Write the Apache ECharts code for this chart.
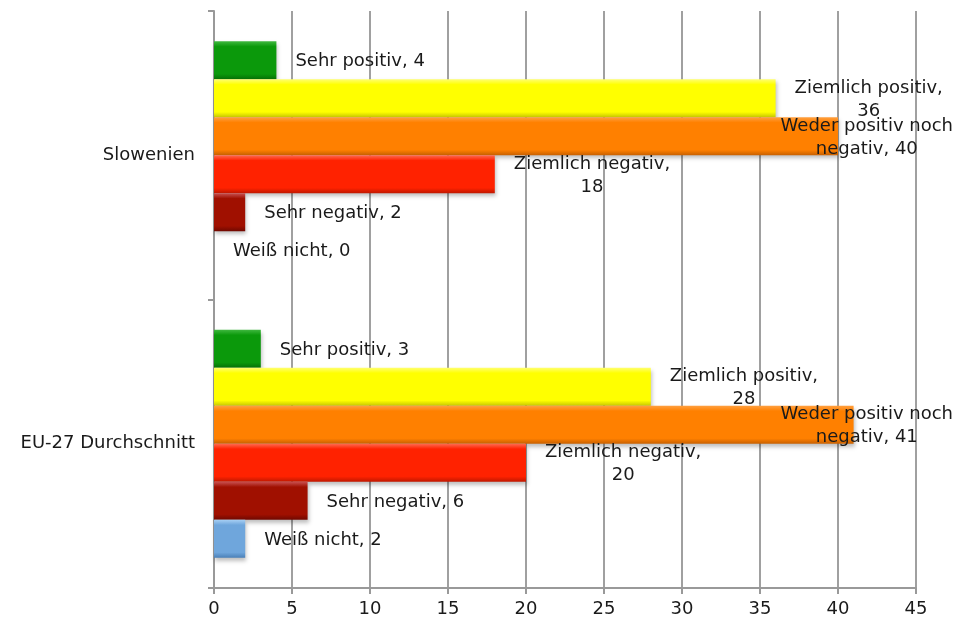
<!DOCTYPE html>
<html>
<head>
<meta charset="utf-8">
<script src="https://cdn.jsdelivr.net/npm/echarts@6/dist/echarts.min.js"></script>
<style>html,body{margin:0;padding:0;background:#fff;}#chart{width:969px;height:623px;}</style>
</head>
<body>
<div id="chart"></div>
<script>
const categories = ['Slowenien', 'EU-27 Durchschnitt'];
const seriesNames = ['Sehr positiv', 'Ziemlich positiv', 'Weder positiv noch negativ', 'Ziemlich negativ', 'Sehr negativ', 'Weiß nicht'];
const sehrPositiv = [4, 3];
const ziemlichPositiv = [36, 28];
const wederNoch = [40, 41];
const ziemlichNegativ = [18, 20];
const sehrNegativ = [2, 6];
const weissNicht = [0, 2];
const xTicks = [0, 5, 10, 15, 20, 25, 30, 35, 40, 45];

const seriesValues = [sehrPositiv, ziemlichPositiv, wederNoch, ziemlichNegativ, sehrNegativ, weissNicht];
const palette = [
  ['#3fb83f', '#0b990b', '#067006'],
  ['#ffff70', '#ffff00', '#c8c800'],
  ['#ffa040', '#ff8000', '#c86000'],
  ['#ff6a50', '#ff2200', '#c01800'],
  ['#c85050', '#a01000', '#700800'],
  ['#a8d0f4', '#6fa6dc', '#4a80b8']
];

function wrapText(s, maxChars) {
  const words = s.split(' ');
  const lines = [];
  let cur = '';
  words.forEach(w => {
    const t = cur ? cur + ' ' + w : w;
    if (t.length > maxChars && cur) { lines.push(cur); cur = w; }
    else cur = t;
  });
  if (cur) lines.push(cur);
  return lines.join('\n');
}

const chart = echarts.init(document.getElementById('chart'));
const W = 969;

const series = seriesNames.map((name, i) => ({
  name: name,
  type: 'bar',
  data: seriesValues[i],
  barGap: '0%',
  barCategoryGap: '21%',
  itemStyle: {
    color: {
      type: 'linear', x: 0, y: 0, x2: 0, y2: 1,
      colorStops: [
        { offset: 0, color: palette[i][0] },
        { offset: 0.14, color: palette[i][1] },
        { offset: 0.86, color: palette[i][1] },
        { offset: 1, color: palette[i][2] }
      ]
    },
    shadowColor: 'rgba(0,0,0,0.25)',
    shadowBlur: 4,
    shadowOffsetY: 3,
    shadowOffsetX: 1
  },
  label: {
    show: true,
    position: 'right',
    distance: 19,
    fontFamily: 'DejaVu Sans',
    fontSize: 18,
    lineHeight: 23,
    color: '#1a1a1a',
    formatter: p => wrapText(p.seriesName + ', ' + p.value, 18)
  },
  labelLayout: function (params) {
    const r = params.rect;
    const lr = params.labelRect;
    let left = r.x + r.width + 19;
    const maxRight = W - 16;
    if (left + lr.width > maxRight) left = maxRight - lr.width;
    return {
      x: left + lr.width / 2,
      y: r.y + r.height / 2 + 1.5,
      align: 'center',
      verticalAlign: 'middle'
    };
  }
}));

chart.setOption({
  animation: false,
  backgroundColor: '#ffffff',
  grid: { left: 214, right: 53, top: 11, bottom: 35, containLabel: false },
  xAxis: {
    type: 'value',
    min: xTicks[0],
    max: xTicks[xTicks.length - 1],
    interval: 5,
    axisLine: { show: true, lineStyle: { color: '#999999', width: 2 } },
    axisTick: { show: true, length: 6, lineStyle: { color: '#999999', width: 2 } },
    splitLine: { show: true, lineStyle: { color: '#a0a0a0', width: 2 } },
    axisLabel: { fontFamily: 'DejaVu Sans', fontSize: 18, color: '#1a1a1a', margin: 12 }
  },
  yAxis: {
    type: 'category',
    data: categories,
    inverse: true,
    axisLine: { show: true, lineStyle: { color: '#999999', width: 2 } },
    axisTick: { show: true, length: 6, lineStyle: { color: '#999999', width: 2 } },
    axisLabel: { fontFamily: 'DejaVu Sans', fontSize: 18, color: '#1a1a1a', margin: 19 }
  },
  series: series
});
</script>
</body>
</html>
